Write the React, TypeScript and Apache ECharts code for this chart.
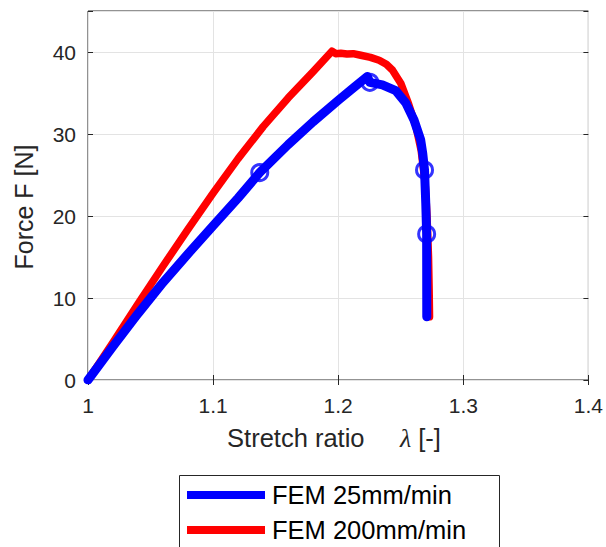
import React, { useEffect, useRef } from "react";
import * as echarts from "echarts";

// FEM force vs. stretch ratio, 25 mm/min
const lambda25 = [
  1.0, 1.02, 1.04, 1.06, 1.08, 1.1, 1.12, 1.1373, 1.16, 1.18, 1.2, 1.212, 1.2233,
  1.2253, 1.2353, 1.246, 1.254, 1.2606, 1.2659, 1.2676, 1.269, 1.27, 1.2707,
  1.2708,
];
const force25 = [
  0, 4.1, 8.1, 11.9, 15.4, 18.8, 22.2, 25.3, 28.7, 31.5, 34.1, 35.6, 37.0, 36.3,
  36.0, 35.3, 33.8, 31.7, 29.3, 27.6, 25.6, 21.5, 17.8, 7.7,
];

// FEM force vs. stretch ratio, 200 mm/min
const lambda200 = [
  1.0, 1.02, 1.04, 1.06, 1.08, 1.1, 1.12, 1.14, 1.16, 1.18, 1.195, 1.198, 1.202,
  1.207, 1.212, 1.218, 1.2258, 1.2327, 1.2385, 1.2433, 1.25, 1.2562, 1.2622,
  1.2663, 1.2695, 1.271, 1.2722, 1.2727, 1.273,
];
const force200 = [
  0, 4.6, 9.3, 13.9, 18.4, 22.8, 27.0, 30.9, 34.4, 37.6, 40.1, 39.8, 39.85, 39.75,
  39.8, 39.6, 39.35, 39.0, 38.5, 37.8, 36.2, 33.7, 30.9, 28.0, 24.0, 20.0, 15.0,
  11.0, 7.7,
];

// Circle markers placed along the 25 mm/min curve
const markerLambda = [1.1373, 1.2253, 1.269, 1.2707];
const markerForce = [25.3, 36.3, 25.6, 17.8];

const xTicks = [1, 1.1, 1.2, 1.3, 1.4];
const yTicks = [0, 10, 20, 30, 40];
const seriesNames = ["FEM 25mm/min", "FEM 200mm/min"];

const FONT = "Liberation Sans, Arial, Helvetica, sans-serif";
const AXIS_COLOR = "#262626";
const GRID_COLOR = "#e3e3e3";

const pairs = (xs: number[], ys: number[]) => xs.map((x, i) => [x, ys[i]]);

export default function App() {
  const ref = useRef<HTMLDivElement>(null);

  useEffect(() => {
    document.body.style.margin = "0";
    if (!ref.current) return;
    const chart = echarts.init(ref.current, null, { renderer: "svg" });

    const xFmt = (v: number) => {
      const r = Math.round(v * 10) / 10;
      return xTicks.includes(r) ? String(r) : "";
    };
    const yFmt = (v: number) => (yTicks.includes(v) ? String(v) : "");

    const baseAxis = {
      axisLine: { show: false },
      axisTick: {
        show: true,
        inside: true,
        length: 5,
        lineStyle: { color: AXIS_COLOR, width: 1 },
      },
    };

    chart.setOption({
      animation: false,
      grid: {
        left: 88,
        right: 16,
        top: 11,
        bottom: 167,
        show: true,
        borderColor: AXIS_COLOR,
        borderWidth: 1,
        backgroundColor: "#fff",
      },
      xAxis: [
        {
          ...baseAxis,
          type: "value",
          min: 1,
          max: 1.4,
          interval: 0.1,
          axisLabel: {
            formatter: xFmt,
            color: AXIS_COLOR,
            fontFamily: FONT,
            fontSize: 21,
            margin: 15,
          },
          splitLine: { show: true, lineStyle: { color: GRID_COLOR, width: 1 } },
        },
        {
          ...baseAxis,
          type: "value",
          position: "top",
          min: 1,
          max: 1.4,
          interval: 0.1,
          axisLabel: { show: false },
          splitLine: { show: false },
        },
      ],
      yAxis: [
        {
          ...baseAxis,
          type: "value",
          min: 0,
          max: 45,
          interval: 10,
          axisLabel: {
            formatter: yFmt,
            color: AXIS_COLOR,
            fontFamily: FONT,
            fontSize: 21,
            margin: 12,
          },
          splitLine: { show: true, lineStyle: { color: GRID_COLOR, width: 1 } },
        },
        {
          ...baseAxis,
          type: "value",
          position: "right",
          min: 0,
          max: 45,
          interval: 10,
          axisLabel: { show: false },
          splitLine: { show: false },
        },
      ],
      legend: {
        data: seriesNames.map((n) => ({ name: n, icon: "rect" })),
        orient: "vertical",
        left: 187,
        top: 482,
        itemWidth: 78,
        itemHeight: 8,
        itemGap: 9,
        padding: 0,
        selectedMode: false,
        textStyle: {
          fontFamily: FONT,
          fontSize: 25.5,
          color: "#000",
          lineHeight: 26,
          padding: [0, 0, 0, 2],
        },
      },
      graphic: [
        {
          type: "rect",
          left: 179,
          top: 475,
          shape: { width: 320, height: 100 },
          style: { fill: "transparent", stroke: AXIS_COLOR, lineWidth: 1 },
          z: 0,
        },
        {
          type: "text",
          x: 24,
          y: 207,
          rotation: Math.PI / 2,
          style: {
            text: "Force F [N]",
            fontFamily: FONT,
            fontSize: 25,
            fill: AXIS_COLOR,
            align: "center",
            verticalAlign: "middle",
          },
        },
        {
          type: "text",
          x: 334,
          y: 438,
          style: {
            text: "{a|Stretch ratio     }{b|λ}{a| [-]}",
            align: "center",
            verticalAlign: "middle",
            rich: {
              a: { fontFamily: FONT, fontSize: 25.5, fill: AXIS_COLOR },
              b: {
                fontFamily: "Liberation Serif, Times New Roman, serif",
                fontStyle: "italic",
                fontSize: 26,
                fill: AXIS_COLOR,
              },
            },
          },
        },
      ],
      series: [
        {
          name: seriesNames[1],
          type: "line",
          data: pairs(lambda200, force200),
          showSymbol: false,
          color: "#ff0000",
          lineStyle: { color: "#ff0000", width: 7.5, join: "round", cap: "round" },
          z: 2,
        },
        {
          name: seriesNames[0],
          type: "line",
          data: pairs(lambda25, force25),
          showSymbol: false,
          color: "#0000ff",
          lineStyle: { color: "#0000ff", width: 9, join: "round", cap: "round" },
          z: 3,
        },
        {
          name: "markers25",
          type: "scatter",
          data: pairs(markerLambda, markerForce),
          symbol: "circle",
          symbolSize: 16,
          itemStyle: {
            color: "rgba(0,0,0,0)",
            borderColor: "#0000ff",
            borderWidth: 3,
          },
          z: 4,
        },
      ],
    });

    return () => chart.dispose();
  }, []);

  return <div ref={ref} style={{ width: 606, height: 547 }} />;
}
